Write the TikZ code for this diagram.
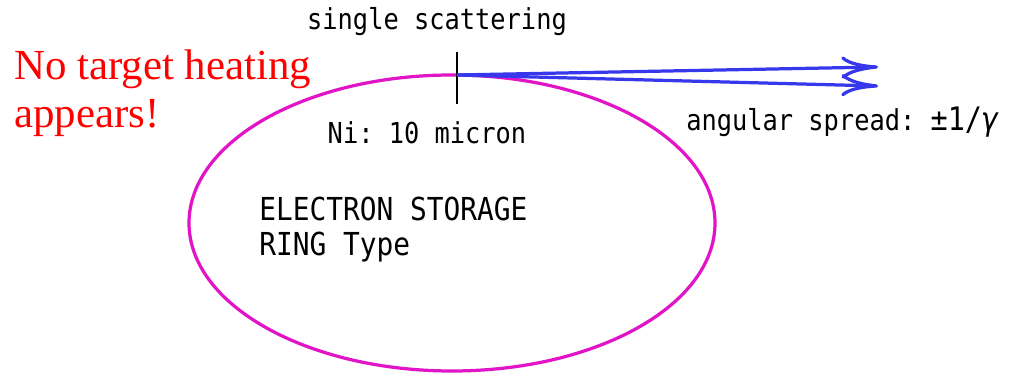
\documentclass[tikz,border=0pt]{standalone}
\usepackage{amsmath,amssymb}
\usepackage{fontspec}
\setmainfont{Liberation Serif}
\setmonofont[FakeStretch=0.88]{DejaVu Sans Mono}
\usepackage{tikz}
\usepackage{xcolor}
\usetikzlibrary{arrows.meta}

\definecolor{ringmag}{RGB}{225,20,200}
\definecolor{beamblue}{RGB}{55,55,235}

\tikzset{
    label/.style={font=\ttfamily\fontsize{20.5}{23}\selectfont,inner sep=0pt},
    ringtext/.style={font=\ttfamily\fontsize{22.5}{24.5}\selectfont,inner sep=0pt,anchor=north west,align=left},
    beam/.style={beamblue,line width=2.3pt,-{To[length=26pt,width=16pt,line width=2.3pt]}}
}

\begin{document}
\begin{tikzpicture}[x=0.025cm,y=-0.025cm]
    \useasboundingbox (0,0) rectangle (1015,379);

    % storage ring (schematic)
    \def\cx{452}
    \def\cy{223}
    \draw[ringmag,line width=2.3pt] (\cx,\cy) ellipse (263 and 148);

    % target foil
    \coordinate (hit) at (457,75);
    \draw[line width=0.9pt] (457,52) -- (457,104);

    % scattered beams
    \coordinate (up) at (878,67);
    \coordinate (dn) at (878,86);
    \draw[beam] (hit) -- (up);
    \draw[beam] (hit) -- (dn);

    % labels
    \node[label] (scat) at (437,22) {single scattering};
    \node[label] (foil) at (427,133) {Ni: 10 micron};
    \node[label,anchor=west] (spread) at (686,122) {angular spread: {\fontsize{23}{23}\selectfont±1/\textit{γ}}};
    \node[ringtext] (ring) at (259,197) {ELECTRON STORAGE\\RING Type};

    % red remark
    \node[text=red,anchor=north west,align=left,inner sep=0pt,
          font=\fontsize{30.5}{34.5}\selectfont] (remark) at (14,49)
        {No target heating\\appears!};
\end{tikzpicture}
\end{document}
